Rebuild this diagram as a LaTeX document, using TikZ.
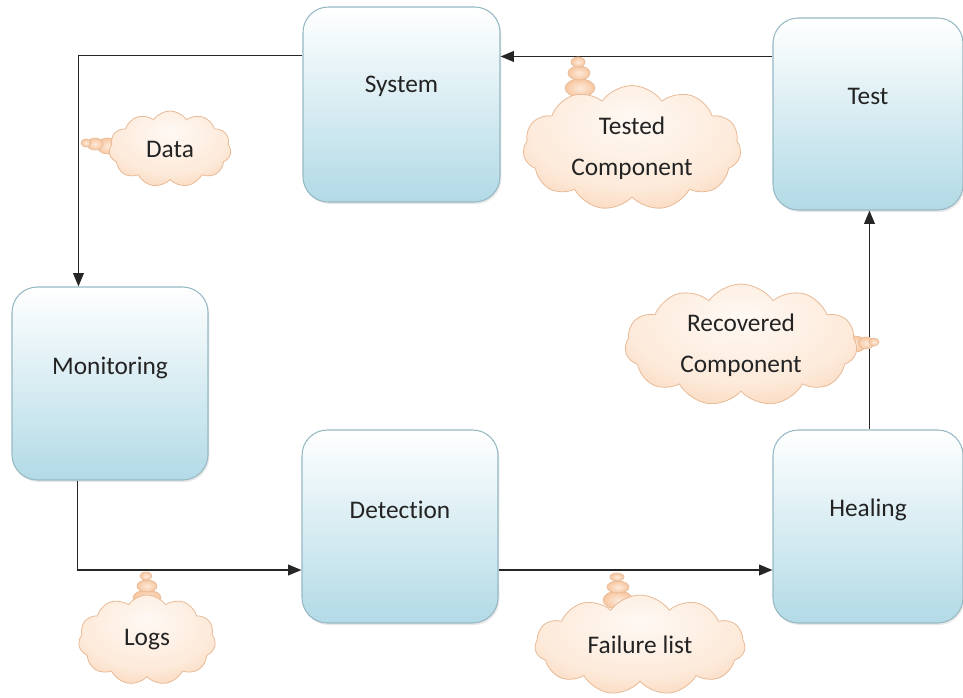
\documentclass[tikz,border=0pt]{standalone}
\usepackage{fontspec}
\setmainfont[Ligatures=NoCommon]{Carlito}
\usetikzlibrary{arrows.meta,calc,shapes.symbols,shadows}
\definecolor{boxbot}{RGB}{178,218,230}
\definecolor{boxline}{RGB}{150,185,196}
\definecolor{cloudout}{RGB}{247,198,160}
\definecolor{cloudmid}{RGB}{253,234,218}
\definecolor{cloudline}{RGB}{232,186,150}
\definecolor{txt}{RGB}{35,35,35}
\pgfdeclareradialshading{cloudshade}{\pgfpoint{0bp}{12bp}}{%
  color(0bp)=(white!70!cloudmid); color(24bp)=(cloudmid);
  color(45bp)=(cloudout); color(70bp)=(cloudout)}
\newcommand\cbub[4]{\path[bub] (#1,#2) ellipse [x radius=#3*0.75pt, y radius=#4*0.75pt];}
\begin{document}
\begin{tikzpicture}[x=0.75pt,y=-0.75pt,
  box/.style 2 args={draw=boxline, line width=0.8pt, rounded corners=19pt,
    top color=white, bottom color=boxbot, inner sep=0pt,
    minimum width=#1*0.75pt, minimum height=#2*0.75pt,
    drop shadow={opacity=0.18, shadow xshift=1pt, shadow yshift=-1.5pt}},
  lbl/.style={text=txt, font=\fontsize{19}{24}\selectfont, inner sep=0pt},
  arr/.style={draw=black!85, line width=1.15pt, -{Triangle[length=10pt,width=8pt]}},
  cl/.style 2 args={cloud, cloud puffs=11, cloud puff arc=110, cloud ignores aspect,
    minimum width=#1*0.75pt, minimum height=#2*0.75pt, inner sep=0pt,
    draw=cloudline, line width=0.6pt, shading=cloudshade,
    align=center, text=txt, font=\fontsize{19}{31}\selectfont},
  bub/.style={draw=cloudline, line width=0.5pt, inner color=cloudmid, outer color=cloudout}
]
\useasboundingbox (0,0) rectangle (963,697);

% boxes
\node[box={197}{195}] (sys)  at (401.5,104.5) {};
\node[box={190}{192}] (test) at (868,114) {};
\node[box={196}{193}] (mon)  at (110,383.5) {};
\node[box={196}{193}] (det)  at (400,526.5) {};
\node[box={190}{193}] (heal) at (868,526.5) {};

% labels
\node[lbl] (sysl)  at ($(sys.center)+(0,-18)$)  {System};
\node[lbl] (testl) at ($(test.center)+(0,-18)$) {Test};
\node[lbl] (monl)  at ($(mon.center)+(0,-16)$)  {Monitoring};
\node[lbl] (detl)  at ($(det.center)+(0,-17)$)  {Detection};
\node[lbl] (heall) at ($(heal.center)+(0,-17)$) {Healing};

% connectors
\draw[arr] ($(sys.north west)+(0,49)$) -| ($(mon.north west)+(67,0)$);
\draw[arr] ($(mon.south west)+(66,0)$) |- ($(det.west)+(0,43.5)$);
\draw[arr] ($(det.east)+(0,43.5)$) -- ($(heal.west)+(0,43.5)$);
\draw[arr] ($(heal.north west)+(97,0)$) -- ($(test.south west)+(97,0)$);
\draw[arr] ($(test.north west)+(0,39)$) -- ($(sys.north east)+(0,50)$);

% callout tails
\cbub{580}{88}{15}{9}\cbub{579}{73}{11}{7}\cbub{578}{62}{7}{5}
\cbub{108}{146}{11}{8}\cbub{95}{144}{8}{6}\cbub{86}{143}{5}{4}
\cbub{855}{344}{11}{8}\cbub{866}{343}{8}{6}\cbub{874}{342}{5}{4}
\cbub{147}{598}{14}{8}\cbub{147}{586}{10}{6}\cbub{146}{576}{6}{4}
\cbub{618}{600}{15}{9}\cbub{618}{587}{11}{6}\cbub{617}{577}{7}{4}

% clouds
\node[cl={122}{76}] (data) at (170,149) {Data};
\node[cl={218}{125}] (tc) at (632,148) {Tested\\Component};
\node[cl={232}{122}] (rc) at (741,345) {Recovered\\Component};
\node[cl={137}{90}] (logs) at (147,640) {Logs};
\node[cl={210}{100}] (fl) at (640,645) {Failure list};
\end{tikzpicture}
\end{document}
